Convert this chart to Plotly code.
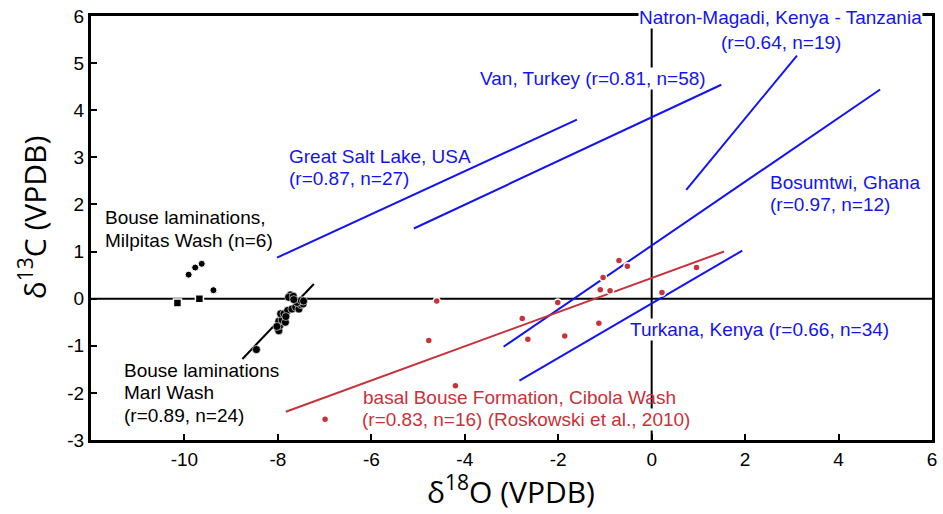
import plotly.graph_objects as go

# Milpitas Wash (n=6)
milp_dot_x = [-9.91, -9.77, -9.63, -9.38]
milp_dot_y = [0.51, 0.66, 0.74, 0.18]
milp_sq_x = [-10.15, -9.68]
milp_sq_y = [-0.09, 0.0]

# Marl Wash (n=24)
marl_x = [-8.46, -8.00, -7.98, -7.96, -7.98, -7.91, -7.84, -7.94, -7.87, -7.79, -7.70, -7.62,
          -7.55, -7.50, -7.46, -7.59, -7.50, -7.73, -7.77, -7.67, -7.66, -7.83, -8.02, -7.45]
marl_y = [-1.08, -0.64, -0.68, -0.57, -0.48, -0.45, -0.50, -0.32, -0.32, -0.25, -0.22, -0.18,
          -0.22, -0.13, -0.11, -0.08, -0.04, 0.08, 0.03, 0.05, -0.02, -0.38, -0.59, -0.05]
marl_line_x = [-8.76, -7.23]
marl_line_y = [-1.28, 0.31]

# Cibola Wash (n=16)
cib_x = [-4.60, -4.77, -4.20, -2.77, -2.65, -2.01, -1.86, -1.13, -1.10, -0.89, -1.04, -0.70,
         -0.52, 0.22, 0.96, -6.99]
cib_y = [-0.05, -0.89, -1.85, -0.42, -0.86, -0.08, -0.79, -0.52, 0.19, 0.17, 0.45, 0.81,
         0.69, 0.13, 0.66, -2.56]
cib_line_x = [-7.83, 1.55]
cib_line_y = [-2.40, 1.00]

# Regression lines of other lakes
gsl_x, gsl_y = [-8.02, -1.60], [0.87, 3.80]
van_x, van_y = [-5.09, 1.49], [1.49, 4.54]
natron_x, natron_y = [0.74, 3.11], [2.31, 5.16]
bosum_x, bosum_y = [-3.17, 4.89], [-1.02, 4.44]
turk_x, turk_y = [-2.83, 1.94], [-1.74, 1.02]

x_ticks = [-10, -8, -6, -4, -2, 0, 2, 4, 6]
x_tick_text = ["-10", "-8", "-6", "-4", "-2", "0", "2", "4", "6"]
y_ticks = [-3, -2, -1, 0, 1, 2, 3, 4, 5, 6]
y_tick_text = ["-3", "-2", "-1", "0", "1", "2", "3", "4", "5", "6"]

BLUE = "#1414F0"
RED = "#C8323A"
BLACK = "black"

fig = go.Figure()

fig.add_trace(go.Scatter(x=[-12, 6], y=[0, 0], mode="lines", line=dict(color=BLACK, width=2), hoverinfo="skip"))
fig.add_trace(go.Scatter(x=[0, 0], y=[-3, 6], mode="lines", line=dict(color=BLACK, width=2), hoverinfo="skip"))

for lx, ly in [(gsl_x, gsl_y), (van_x, van_y), (natron_x, natron_y), (bosum_x, bosum_y), (turk_x, turk_y)]:
    fig.add_trace(go.Scatter(x=lx, y=ly, mode="lines", line=dict(color=BLUE, width=2)))

fig.add_trace(go.Scatter(x=cib_line_x, y=cib_line_y, mode="lines", line=dict(color=RED, width=2)))
fig.add_trace(go.Scatter(x=marl_line_x, y=marl_line_y, mode="lines", line=dict(color=BLACK, width=2)))

fig.add_trace(go.Scatter(x=cib_x, y=cib_y, mode="markers",
                         marker=dict(color=RED, size=7, line=dict(color="white", width=1.5))))
fig.add_trace(go.Scatter(x=marl_x, y=marl_y, mode="markers",
                         marker=dict(color=BLACK, size=8, line=dict(color="white", width=0.6))))
fig.add_trace(go.Scatter(x=milp_dot_x, y=milp_dot_y, mode="markers",
                         marker=dict(color=BLACK, size=7, line=dict(color="white", width=1))))
fig.add_trace(go.Scatter(x=milp_sq_x, y=milp_sq_y, mode="markers",
                         marker=dict(color=BLACK, size=8, symbol="square", line=dict(color="white", width=1.5))))

AF = "Liberation Sans, Arial, sans-serif"

def ann(text, x, y, color, xanchor="left", bg=None):
    d = dict(text=text, x=x, y=y, xref="x", yref="y", showarrow=False, xanchor=xanchor,
             yanchor="middle", font=dict(family=AF, size=19, color=color))
    if bg:
        d["bgcolor"] = bg
        d["borderpad"] = 0
    fig.add_annotation(**d)

ann("Natron-Magadi, Kenya - Tanzania", 2.75, 5.97, BLUE, xanchor="center", bg="white")
ann("(r=0.64, n=19)", 2.77, 5.44, BLUE, xanchor="center")
ann("Van, Turkey (r=0.81, n=58)", -3.70, 4.67, BLUE, bg="white")
ann("Great Salt Lake, USA", -7.81, 3.01, BLUE)
ann("(r=0.87, n=27)", -7.81, 2.55, BLUE)
ann("Bosumtwi, Ghana", 2.49, 2.46, BLUE)
ann("(r=0.97, n=12)", 2.49, 2.00, BLUE)
ann("Turkana, Kenya (r=0.66, n=34)", -0.49, -0.66, BLUE, bg="white")
ann("Bouse laminations,", -11.74, 1.72, BLACK)
ann("Milpitas Wash (n=6)", -11.74, 1.23, BLACK)
ann("Bouse laminations", -11.34, -1.53, BLACK)
ann("Marl Wash", -11.34, -2.00, BLACK)
ann("(r=0.89, n=24)", -11.34, -2.48, BLACK)
ann("basal Bouse Formation, Cibola Wash", -6.23, -2.10, RED)
ann("(r=0.83, n=16) (Roskowski et al., 2010)", -6.23, -2.57, RED, bg="white")

TF = "Open Sans, Noto Sans, sans-serif"
fig.add_annotation(text="δ<sup>18</sup>O (VPDB)", x=0.499, y=-0.118, xref="paper", yref="paper",
                   showarrow=False, xanchor="center", yanchor="middle",
                   font=dict(family=TF, size=30, color="black"))
fig.add_annotation(text="δ<sup>13</sup>C (VPDB)", x=-0.068, y=0.525, xref="paper", yref="paper",
                   showarrow=False, xanchor="center", yanchor="middle", textangle=-90,
                   font=dict(family=TF, size=30, color="black"))

axis_common = dict(ticks="inside", ticklen=6, tickwidth=1.5, tickcolor="black",
                   showline=True, linecolor="black", linewidth=3, mirror=True,
                   showgrid=False, zeroline=False,
                   tickfont=dict(family=AF, size=19, color="black"))

fig.update_layout(
    width=943, height=514,
    margin=dict(l=91, r=6, t=16, b=74),
    paper_bgcolor="white", plot_bgcolor="white",
    showlegend=False,
    xaxis=dict(range=[-12, 6], tickvals=x_ticks, ticktext=x_tick_text, **axis_common),
    yaxis=dict(range=[-3, 6], tickvals=y_ticks, ticktext=y_tick_text, **axis_common),
)

fig.write_html("out.html", config={"displayModeBar": False},
               post_script="document.body.style.margin='0px';")
